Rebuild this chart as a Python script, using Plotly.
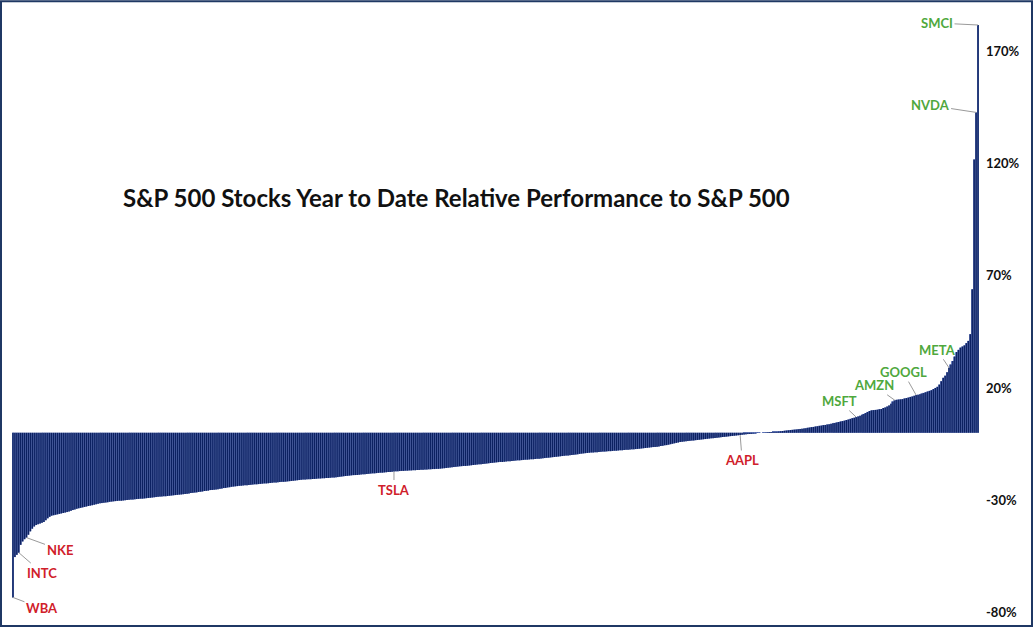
import plotly.graph_objects as go

# relative YTD performance vs S&P 500, one bar per stock, sorted ascending (%)
perf = [
    -73.5, -55.5, -54.5, -53.5, -50.0, -48.5, -47.5, -46.8, -45.5, -44.0,
    -42.8, -41.8, -41.2, -40.8, -40.5, -40.2, -39.8, -39.0, -38.2, -37.5,
    -37.0, -36.8, -36.6, -36.4, -36.2,
    -36.0, -35.8, -35.6, -35.4, -35.1, -34.8, -34.5, -34.2, -33.9, -33.7,
    -33.5, -33.3, -33.1, -32.9, -32.7, -32.5, -32.3, -32.1, -31.9, -31.7,
    -31.5, -31.4, -31.2, -31.1, -31.0,
    -30.8, -30.7, -30.6, -30.5, -30.4, -30.3, -30.3, -30.2, -30.1, -30.0,
    -29.9, -29.8, -29.8, -29.7, -29.6, -29.5, -29.4, -29.4, -29.3, -29.2,
    -29.1, -29.0, -28.9, -28.8, -28.7,
    -28.6, -28.5, -28.4, -28.3, -28.3, -28.2, -28.1, -28.0, -27.9, -27.8,
    -27.7, -27.6, -27.5, -27.4, -27.3, -27.2, -27.1, -26.9, -26.8, -26.7,
    -26.6, -26.4, -26.3, -26.2, -26.0,
    -25.9, -25.8, -25.6, -25.5, -25.4, -25.3, -25.2, -25.0, -24.9, -24.7,
    -24.6, -24.4, -24.3, -24.1, -24.0, -23.9, -23.8, -23.7, -23.6, -23.5,
    -23.4, -23.4, -23.3, -23.2, -23.1,
    -23.0, -23.0, -22.9, -22.8, -22.7, -22.6, -22.6, -22.5, -22.4, -22.3,
    -22.2, -22.2, -22.1, -22.0, -21.9, -21.9, -21.8, -21.7, -21.6, -21.5,
    -21.4, -21.3, -21.2, -21.1, -21.0,
    -20.9, -20.9, -20.8, -20.7, -20.7, -20.6, -20.6, -20.5, -20.4, -20.4,
    -20.3, -20.3, -20.2, -20.2, -20.1, -20.0, -20.0, -19.9, -19.8, -19.6,
    -19.5, -19.4, -19.3, -19.2, -19.1,
    -19.0, -18.9, -18.9, -18.8, -18.7, -18.6, -18.5, -18.5, -18.4, -18.3,
    -18.2, -18.1, -18.1, -18.0, -17.9, -17.8, -17.8, -17.7, -17.6, -17.5,
    -17.5, -17.4, -17.3, -17.2, -17.2,
    -17.1, -17.0, -17.0, -16.9, -16.9, -16.8, -16.8, -16.7, -16.7, -16.6,
    -16.6, -16.5, -16.5, -16.4, -16.4, -16.3, -16.3, -16.2, -16.2, -16.1,
    -16.1, -16.0, -15.9, -15.8, -15.7,
    -15.6, -15.5, -15.4, -15.3, -15.2, -15.1, -15.0, -14.9, -14.8, -14.8,
    -14.7, -14.6, -14.5, -14.4, -14.3, -14.2, -14.1, -14.0, -13.9, -13.8,
    -13.7, -13.6, -13.5, -13.4, -13.3,
    -13.2, -13.1, -13.0, -13.0, -12.9, -12.8, -12.7, -12.7, -12.6, -12.5,
    -12.4, -12.3, -12.3, -12.2, -12.1, -12.0, -12.0, -11.9, -11.8, -11.8,
    -11.7, -11.6, -11.6, -11.5, -11.4,
    -11.3, -11.2, -11.1, -11.0, -10.9, -10.8, -10.7, -10.6, -10.5, -10.4,
    -10.3, -10.2, -10.1, -10.0, -9.9, -9.8, -9.7, -9.6, -9.4, -9.3,
    -9.2, -9.1, -9.0, -8.9, -8.8,
    -8.8, -8.7, -8.7, -8.6, -8.5, -8.4, -8.4, -8.3, -8.2, -8.2,
    -8.1, -8.0, -8.0, -7.9, -7.8, -7.8, -7.7, -7.6, -7.6, -7.5,
    -7.4, -7.4, -7.3, -7.2, -7.1,
    -7.0, -6.9, -6.8, -6.7, -6.6, -6.5, -6.4, -6.3, -6.2, -6.1,
    -5.9, -5.8, -5.6, -5.5, -5.3, -5.1, -4.9, -4.7, -4.5, -4.3,
    -4.1, -4.0, -3.9, -3.8, -3.7,
    -3.6, -3.5, -3.4, -3.3, -3.2, -3.1, -3.0, -2.9, -2.8, -2.7,
    -2.6, -2.5, -2.4, -2.3, -2.2, -2.1, -2.0, -1.9, -1.8, -1.7,
    -1.6, -1.5, -1.4, -1.3, -1.2,
    -1.1, -1.0, -0.9, -0.8, -0.7, -0.6, -0.5, -0.4, -0.3, -0.2,
    -0.1, -0.05, 0.0, 0.05, 0.1, 0.2, 0.3, 0.3, 0.4, 0.5,
    0.5, 0.6, 0.7, 0.8, 0.9,
    1.0, 1.1, 1.2, 1.3, 1.4, 1.5, 1.6, 1.7, 1.8, 1.9,
    2.0, 2.2, 2.3, 2.5, 2.6, 2.8, 2.9, 3.1, 3.2, 3.4,
    3.5, 3.7, 3.8, 4.0, 4.2,
    4.4, 4.6, 4.8, 5.0, 5.2, 5.4, 5.7, 5.9, 6.2, 6.5,
    6.7, 7.0, 7.3, 7.6, 8.0, 8.4, 8.8, 9.3, 9.7, 10.0,
    10.1, 10.2, 10.3, 10.5, 10.6,
    11.0, 11.3, 11.7, 12.2, 13.0, 14.0, 14.5, 14.7, 14.8, 14.9,
    15.0, 15.3, 15.5, 15.7, 16.0, 16.2, 16.5, 16.8, 17.0, 17.2,
    17.5, 17.8, 18.1, 18.4, 18.7,
    19.0, 19.5, 20.0, 20.5, 21.5, 23.0, 24.5, 25.5, 27.0, 29.0,
    30.5, 32.0, 34.0, 36.0, 37.0, 38.0, 38.5, 39.0, 40.0, 41.0,
    44.0, 64.0, 122.0, 143.0, 182.0,
]

# highlighted tickers and their position in the sorted list
label_names = ["WBA", "INTC", "NKE", "TSLA", "AAPL", "MSFT", "AMZN", "GOOGL", "META", "NVDA", "SMCI"]
label_idx = [0, 3, 7, 197, 376, 436, 456, 467, 484, 498, 499]

tick_vals = [-80, -30, 20, 70, 120, 170]
tick_text = ["-80%", "-30%", "20%", "70%", "120%", "170%"]

NAVY = "#0d2262"
STRIPE = "#6d82c2"
GREEN = "#4fa83d"
RED = "#d0202a"

# text offsets (px) from the bar end to the label
offsets = {
    "WBA": (29, 11), "INTC": (23, 20), "NKE": (33, 12), "TSLA": (0, 18),
    "AAPL": (2, 25), "MSFT": (-17, -16), "AMZN": (-21, -15), "GOOGL": (-13, -23),
    "META": (-12, -18), "NVDA": (-46, -7), "SMCI": (-41, -2),
}

xs = list(range(len(perf)))
fig = go.Figure()
# light layer underneath so the thin gaps between bars read as pale stripes
fig.add_trace(go.Bar(
    x=xs, y=perf, width=1.0,
    marker=dict(color=STRIPE, line=dict(width=0)),
    hoverinfo="skip",
))
# a hairline outline makes plotly snap bars to whole pixels
fig.add_trace(go.Bar(
    x=xs, y=perf, width=0.74,
    marker=dict(color=NAVY, line=dict(width=0.02, color=NAVY)),
    hovertemplate="%{y:.1f}%<extra></extra>",
))

annotations = []
for name, i in zip(label_names, label_idx):
    ax, ay = offsets[name]
    annotations.append(dict(
        x=i, y=perf[i], text="<b>%s</b>" % name, showarrow=True, arrowhead=0,
        arrowwidth=1, arrowcolor="#9a9a9a", ax=ax, ay=ay, standoff=0,
        font=dict(family="Lato", size=13, color=GREEN if perf[i] > 0 else RED),
    ))

annotations.append(dict(
    text="<b>S&P 500 Stocks Year to Date Relative Performance to S&P 500</b>",
    xref="paper", yref="paper", x=0.46, y=0.735, showarrow=False,
    font=dict(family="Lato", size=24, color="#111111"),
))

L, R, T, B = 12, 54, 25, 15
W, H = 1033, 632
pw, ph = W - L - R, H - T - B

fig.update_layout(
    width=W, height=H,
    margin=dict(l=L, r=R, t=T, b=B),
    paper_bgcolor="white", plot_bgcolor="white",
    barmode="overlay", showlegend=False,
    annotations=annotations,
    xaxis=dict(range=[-0.5, len(perf) - 0.5], visible=False),
    yaxis=dict(
        range=[-80, 182], side="right", tickvals=tick_vals, ticktext=tick_text,
        showgrid=False, zeroline=False, showline=False, ticks="",
        ticklabelstandoff=6,
        tickfont=dict(family="Lato", size=13, color="#111111", weight="bold"),
    ),
    shapes=[dict(
        type="rect", xref="paper", yref="paper",
        x0=(1 - L) / pw, x1=(W - 1 - L) / pw,
        y0=-(B - 1) / ph, y1=1 + (T - 1) / ph,
        line=dict(color="#1f3864", width=2), fillcolor="rgba(0,0,0,0)",
    )],
)

fig.write_html(
    "out.html",
    config={"displayModeBar": False},
    post_script="document.body.style.margin='0';",
)
